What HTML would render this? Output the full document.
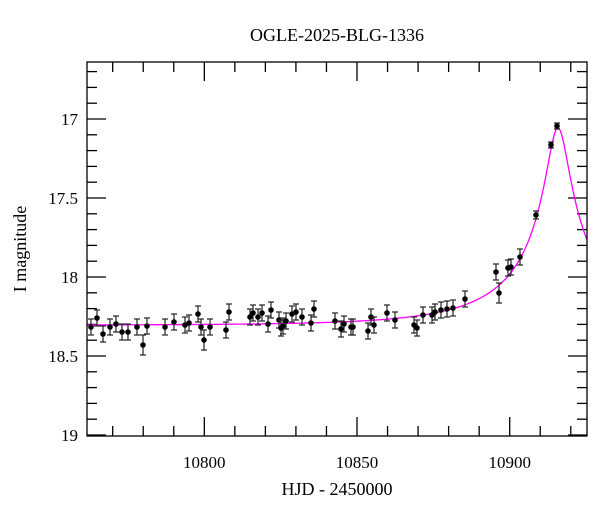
<!DOCTYPE html>
<html><head><meta charset="utf-8"><style>
body{margin:0;background:#fff;}
svg{display:block;font-family:"Liberation Serif",serif;}
</style></head><body>
<svg id="s" width="600" height="512" xmlns="http://www.w3.org/2000/svg">
<rect width="600" height="512" fill="#fff"/>
<text x="337" y="41" font-size="18" text-anchor="middle">OGLE-2025-BLG-1336</text>
<text x="337" y="495" font-size="18" text-anchor="middle">HJD - 2450000</text>
<text transform="translate(26,249) rotate(-90)" font-size="18" text-anchor="middle">I magnitude</text>
<g id="ax" stroke="#000" stroke-width="1.3" fill="none"></g>
<g id="lab" font-size="17"></g>
<path id="curve" fill="none" stroke="#ff00ff" stroke-width="1.3"/>
<g id="pts"></g>
<rect x="87" y="62" width="500" height="374" fill="none" stroke="#000" stroke-width="1.3"/>
</svg>
<script>
var L=87,R=587,T=62,B=436;
function X(t){return 204.3+(t-10800)*3.054;}
function Y(m){return 119+(m-17)*158;}
var ax=document.getElementById('ax'),lab=document.getElementById('lab'),h='',lh='';
for(var t=10770;t<=10920;t+=10){var x=X(t),big=(t%50==0);var len=big?19:10;
h+='<line x1="'+x+'" y1="'+B+'" x2="'+x+'" y2="'+(B-len)+'"/><line x1="'+x+'" y1="'+T+'" x2="'+x+'" y2="'+(T+len)+'"/>';
if(big)lh+='<text x="'+x+'" y="468" text-anchor="middle">'+t+'</text>';}
for(var i=0;i<=23;i++){var m=16.7+i*0.1;var y=Y(m);if(y<T-0.5||y>B+0.5)continue;var big=Math.abs(m*2-Math.round(m*2))<1e-6;var len=big?19:10;
h+='<line x1="'+L+'" y1="'+y+'" x2="'+(L+len)+'" y2="'+y+'"/><line x1="'+R+'" y1="'+y+'" x2="'+(R-len)+'" y2="'+y+'"/>';
if(big){var s=(Math.round(m*10)/10).toString();lh+='<text x="78" y="'+(y+6)+'" text-anchor="end">'+s+'</text>';}}
ax.innerHTML=h;lab.innerHTML=lh;
var d='';var fs=0.2,u0=0.085,tE=42,t0=10915.8;
for(var px=L;px<=R;px+=1){var t=10800+(px-204.3)/3.054;var tau=(t-t0)/tE;var u=Math.sqrt(u0*u0+tau*tau);var A=(u*u+2)/(u*Math.sqrt(u*u+4));var F=fs*A+(1-fs);var m=18.305-2.5*Math.log10(F);var y=Math.max(Y(m),T);d+=(d?'L':'M')+px+' '+y.toFixed(2);}
document.getElementById('curve').setAttribute('d',d);
var P=[[91,327],[97,318],[103,334],[110,327],[116,324],[122,332],[128,332],[137,327],[143,345],[147,326],[165,327],[174,322],[185,325],[189,323],[198,314],[201,327],[204,340],[210,327],[226,330],[229,312],[250,317],[253,313],[258,317],[262,313],[268,324],[271,310],[279,320],[281,328],[283,326],[286,321],[292,314],[296,312],[302,317],[311,323],[314,309],[335,321],[341,329],[344,324],[351,327],[353,327],[368,331],[371,317],[374,325],[387,313],[395,320],[414,325],[417,328],[423,315],[432,315],[435,312],[441,310],[447,309],[453,308],[465,299],[496,272],[499,293],[508,268],[511,267],[520,257],[536,215],[551,145],[557,126]];
var ph='';P.forEach(function(p){var e=p[1]<160?3:(p[1]<230?4:8);if(p[0]==143||p[0]==204||p[0]==499)e=10;
ph+='<g stroke="#222" stroke-width="1.2"><line x1="'+p[0]+'" y1="'+(p[1]-e)+'" x2="'+p[0]+'" y2="'+(p[1]+e)+'"/><line x1="'+(p[0]-3)+'" y1="'+(p[1]-e)+'" x2="'+(p[0]+3)+'" y2="'+(p[1]-e)+'"/><line x1="'+(p[0]-3)+'" y1="'+(p[1]+e)+'" x2="'+(p[0]+3)+'" y2="'+(p[1]+e)+'"/></g><circle cx="'+p[0]+'" cy="'+p[1]+'" r="2.8" fill="#000"/>';});
document.getElementById('pts').innerHTML=ph;
</script>
</body></html>
